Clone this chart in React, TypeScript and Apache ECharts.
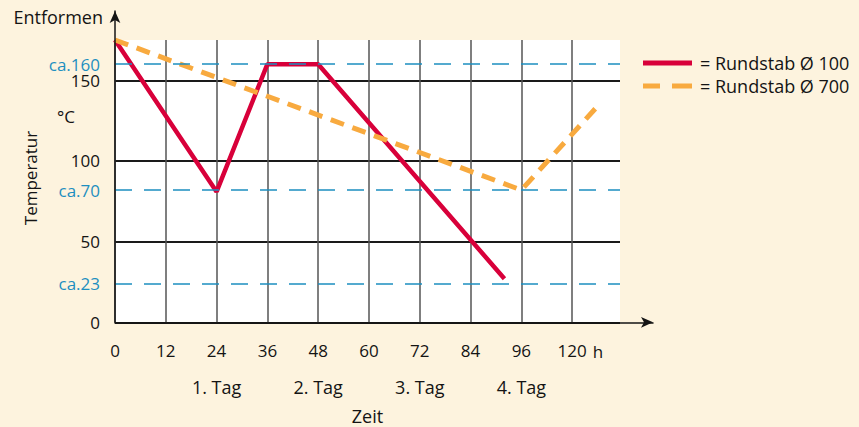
import React, { useEffect, useRef } from 'react';
import * as echarts from 'echarts';

const seriesNames = ['Rundstab Ø 100', 'Rundstab Ø 700'];
const hoursRed = [0, 24, 36, 48, 92];
const tempRed = [175, 81, 160, 160, 27];
const hoursOrange = [0, 96, 114];
const tempOrange = [175, 82, 134];
const refValues = [160, 82, 24];
const refLabels = ['ca.160', 'ca.70', 'ca.23'];
const yTicks = [0, 50, 100, 150];
const xTickValues = [0, 12, 24, 36, 48, 60, 72, 84, 96, 108];
const xTickTexts = ['0', '12', '24', '36', '48', '60', '72', '84', '96', '120'];
const dayHours = [24, 48, 72, 96];
const dayLabels = ['1. Tag', '2. Tag', '3. Tag', '4. Tag'];

const FONT = 'Open Sans';
const RED = '#d8003a';
const ORANGE = '#f8aa3f';
const BLUE = '#1d8fc0';
const INK = '#141414';
const FS = 17;
const FW = 18;

export default function App() {
  const ref = useRef<HTMLDivElement>(null);
  useEffect(() => {
    if (!ref.current) return;
    const chart = echarts.init(ref.current, null, { renderer: 'svg' });
    const arrowAxis = {
      type: 'value',
      min: 0,
      max: 1,
      axisLine: {
        show: true,
        symbol: ['none', 'arrow'],
        symbolSize: [8, 12],
        lineStyle: { color: INK, width: 1.5 },
      },
      axisTick: { show: false },
      axisLabel: { show: false },
      splitLine: { show: false },
      z: 10,
    };
    const option: any = {
      animation: false,
      backgroundColor: '#fdf3de',
      textStyle: { fontFamily: FONT },
      grid: [
        { left: 115, top: 11, width: 538, height: 311.3, show: false, outerBoundsMode: 'none' },
        {
          left: 115, top: 40, width: 505, height: 282.3, show: true,
          backgroundColor: '#ffffff', borderWidth: 0, outerBoundsMode: 'none',
        },
      ],
      xAxis: [
        { ...arrowAxis, gridIndex: 0 },
        {
          gridIndex: 1, type: 'value', position: 'bottom', min: 0, max: 119.3, interval: 12,
          axisLine: { show: false }, axisTick: { show: false },
          axisLabel: {
            margin: 20, fontSize: FS, color: INK, fontFamily: FONT, showMaxLabel: false,
            formatter: (v: number) => {
              const i = xTickValues.indexOf(v);
              return i >= 0 ? xTickTexts[i] : '';
            },
          },
          splitLine: { show: true, showMaxLine: false, lineStyle: { color: '#555', width: 1.5 } },
        },
        {
          gridIndex: 1, type: 'value', position: 'bottom', offset: 0, min: 0, max: 119.3,
          axisLine: { show: false }, axisTick: { show: false, customValues: dayHours },
          axisLabel: {
            customValues: dayHours, margin: 56, fontSize: FW, color: INK, fontFamily: FONT,
            formatter: (v: number) => {
              const i = dayHours.indexOf(v);
              return i >= 0 ? dayLabels[i] : '';
            },
          },
          splitLine: { show: false },
          name: 'Zeit', nameLocation: 'middle', nameGap: 85,
          nameTextStyle: { fontSize: FW, color: INK, fontFamily: FONT },
        },
      ],
      yAxis: [
        { ...arrowAxis, gridIndex: 0 },
        {
          gridIndex: 1, type: 'value', min: 0, max: 175, interval: 50,
          axisLine: { show: false }, axisTick: { show: false },
          axisLabel: {
            margin: 15, fontSize: FS, lineHeight: 13, padding: [4, 0, 0, 0], color: INK, fontFamily: FONT, showMaxLabel: false,
            formatter: (v: number) => (yTicks.includes(v) ? String(v) : ''),
          },
          splitLine: { show: true, showMaxLine: false, lineStyle: { color: '#1a1a1a', width: 1.8 } },
        },
      ],
      legend: {
        left: 643, top: 54, orient: 'vertical', padding: 0,
        itemWidth: 49, itemHeight: 5, itemGap: 5,
        formatter: '= {name}',
        textStyle: { fontSize: FW, lineHeight: 18, color: INK, fontFamily: FONT, padding: [0, 0, 0, 3] },
        data: [
          { name: seriesNames[0], icon: 'path://M0,0h49v5h-49z' },
          { name: seriesNames[1], icon: 'path://M0,0h17v5h-17zM29,0h20v5h-20z' },
        ],
      },
      series: [
        {
          name: 'ref', type: 'line', xAxisIndex: 1, yAxisIndex: 1, data: [], z: 2,
          markLine: {
            silent: true, symbol: ['none', 'none'],
            lineStyle: { color: BLUE, width: 1.5, type: [17, 12] },
            label: { show: true, position: 'start', distance: 15, color: BLUE, fontSize: FS, lineHeight: 13, fontFamily: FONT },
            data: refValues.map((v, i) => ({ yAxis: v, label: { formatter: refLabels[i] } })),
          },
        },
        {
          name: seriesNames[1], type: 'line', xAxisIndex: 1, yAxisIndex: 1, z: 4,
          data: hoursOrange.map((h, i) => [h, tempOrange[i]]),
          symbol: 'none',
          itemStyle: { color: ORANGE },
          lineStyle: { color: ORANGE, width: 5, type: [14, 9] },
        },
        {
          name: seriesNames[0], type: 'line', xAxisIndex: 1, yAxisIndex: 1, z: 3,
          data: hoursRed.map((h, i) => [h, tempRed[i]]),
          symbol: 'none',
          itemStyle: { color: RED },
          lineStyle: { color: RED, width: 4.5 },
        },
      ],
      graphic: [
        {
          type: 'text', x: 103, y: 17,
          style: { text: 'Entformen', align: 'right', verticalAlign: 'middle', fontSize: FW, fontFamily: FONT, fill: INK },
        },
        {
          type: 'text', x: 30, y: 178, rotation: Math.PI / 2,
          style: { text: 'Temperatur', align: 'center', verticalAlign: 'middle', fontSize: FS, fontFamily: FONT, fill: INK },
        },
        {
          type: 'text', x: 66, y: 116,
          style: { text: '°C', align: 'center', verticalAlign: 'middle', fontSize: FS, fontFamily: FONT, fill: INK },
        },
        {
          type: 'text', x: 598, y: 351,
          style: { text: 'h', align: 'center', verticalAlign: 'middle', fontSize: FS, fontFamily: FONT, fill: INK },
        },
      ],
    };
    chart.setOption(option);
    return () => chart.dispose();
  }, []);
  return (
    <div
      ref={ref}
      style={{ position: 'absolute', left: 0, top: 0, width: 859, height: 427 }}
    />
  );
}
